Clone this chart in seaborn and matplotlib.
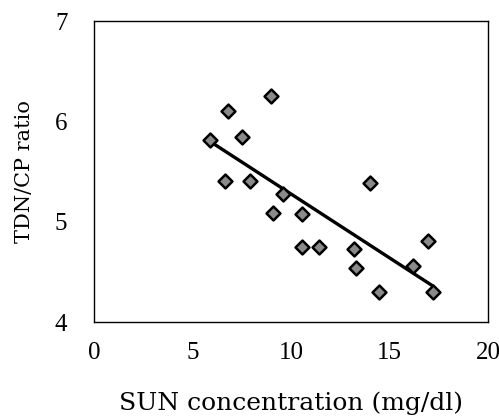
import numpy as np
import pandas as pd
import matplotlib
matplotlib.use('Agg')
import matplotlib.pyplot as plt
import seaborn as sns

sns.set_style('white')
plt.rcParams['font.family'] = ['Liberation Serif', 'DejaVu Serif']
plt.rcParams['text.color'] = 'black'
plt.rcParams['axes.labelcolor'] = 'black'
plt.rcParams['xtick.color'] = 'black'
plt.rcParams['ytick.color'] = 'black'

# SUN concentration (mg/dl) vs TDN/CP ratio
sun = [5.89, 6.79, 6.68, 7.53, 7.92, 8.98, 9.10, 9.61, 10.54, 10.54,
       11.42, 13.21, 13.32, 14.03, 14.48, 16.21, 16.94, 17.19]
ratio = [5.81, 6.10, 5.41, 5.84, 5.41, 6.25, 5.09, 5.28, 5.08, 4.75,
         4.75, 4.73, 4.54, 5.39, 4.30, 4.56, 4.81, 4.30]
xticks = [0, 5, 10, 15, 20]
yticks = [4, 5, 6, 7]

df = pd.DataFrame({'sun': sun, 'ratio': ratio})

fig = plt.figure(figsize=(4.99, 4.2), dpi=100)
ax = fig.add_axes([0.188, 0.233, 0.79, 0.717])

sns.regplot(data=df, x='sun', y='ratio', ax=ax, ci=None, truncate=True,
            marker='D',
            scatter_kws=dict(s=50, facecolor='#8a8a8a', edgecolor='black',
                             linewidths=1.8, alpha=1, zorder=3),
            line_kws=dict(color='black', lw=2.4, zorder=2))

ax.set_xlim(0, 20)
ax.set_ylim(4, 7)
ax.set_xticks(xticks)
ax.set_yticks(yticks)
ax.tick_params(direction='in', length=3, width=0.8, labelsize=18, pad=14,
               colors='black')
ax.tick_params(axis='y', pad=19)
for s in ax.spines.values():
    s.set_linewidth(1.0)
    s.set_color('black')

ax.set_xlabel('SUN concentration (mg/dl)', fontsize=18, labelpad=20,
              family=['DejaVu Serif'], color='black')
ax.set_ylabel('TDN/CP ratio', fontsize=15, labelpad=15,
              family=['DejaVu Serif'], color='black')

fig.savefig('out.png', dpi=100)
